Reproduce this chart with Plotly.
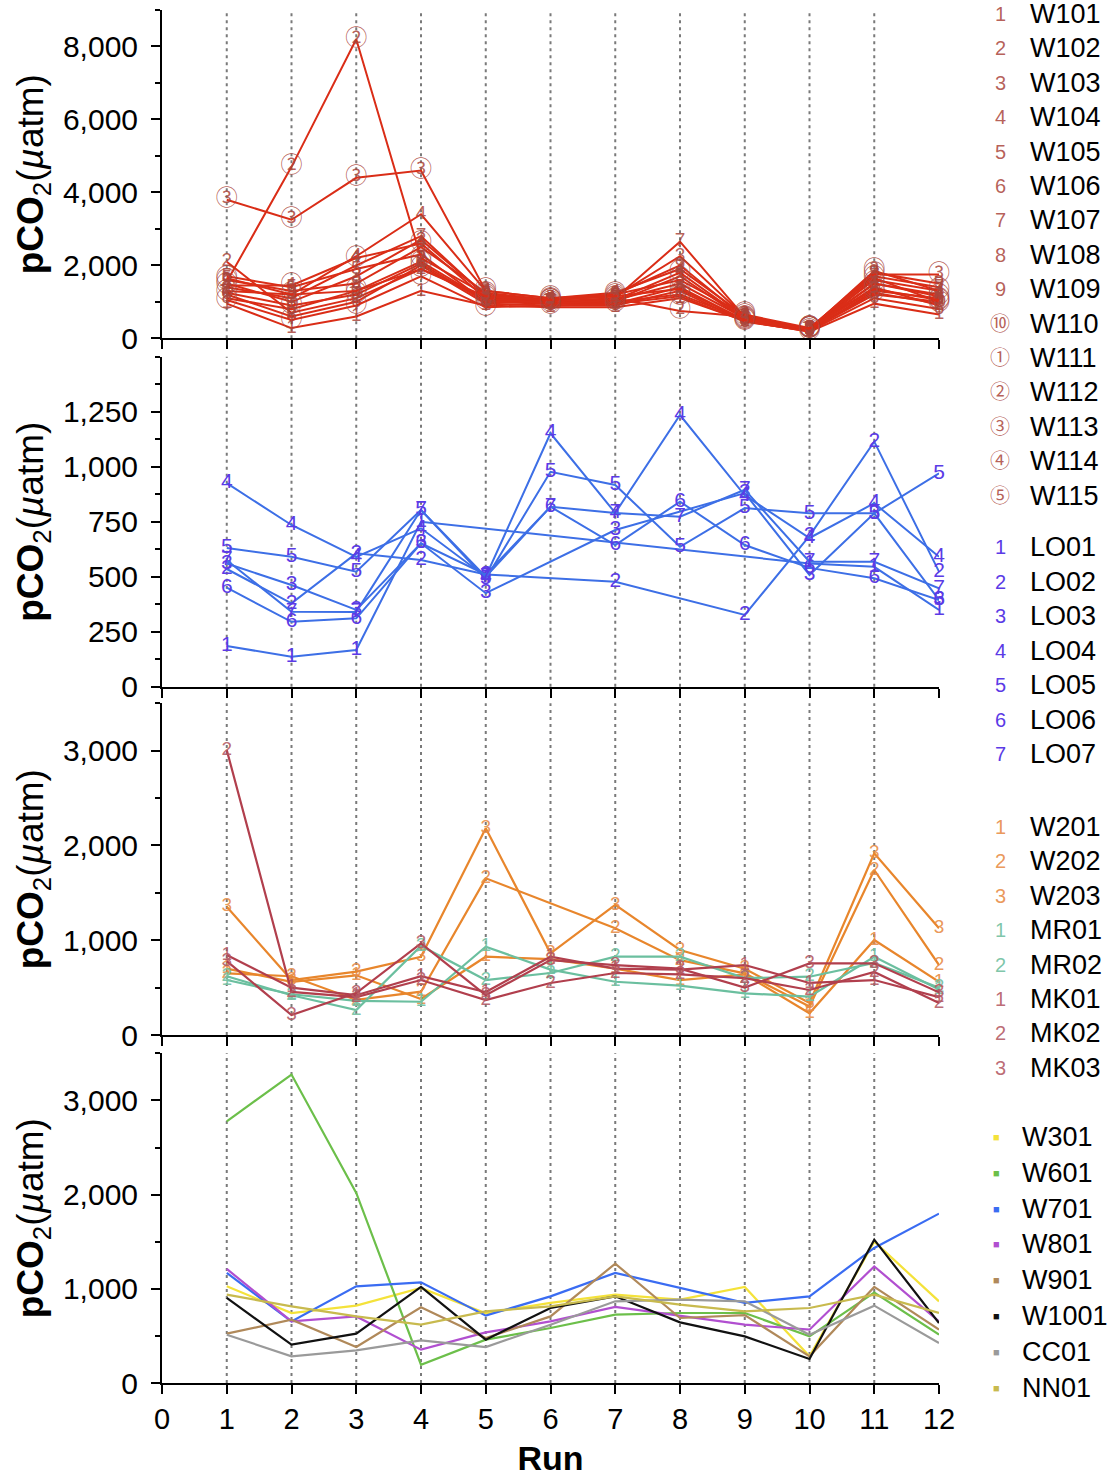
import plotly.graph_objects as go

# ---------------- data ----------------
runs = [1, 2, 3, 4, 5, 6, 7, 8, 9, 10, 11, 12]
x_tick_labels = ["0", "1", "2", "3", "4", "5", "6", "7", "8", "9", "10", "11", "12"]

# Panel 1 : W101 - W115
p1_names = ["W101", "W102", "W103", "W104", "W105", "W106", "W107", "W108",
            "W109", "W110", "W111", "W112", "W113", "W114", "W115"]
p1_marks = ["1", "2", "3", "4", "5", "6", "7", "8", "9", "⑩", "①", "②", "③", "④", "⑤"]
W101 = [950, 280, 600, 1300, 900, 850, 850, 1100, 480, 180, 950, 650]
W102 = [2100, 700, 1100, 1900, 1100, 1000, 1050, 1500, 550, 250, 1400, 900]
W103 = [1500, 1000, 1700, 2700, 1200, 1050, 1150, 2250, 600, 230, 1500, 1200]
W104 = [1300, 1200, 2250, 3400, 1300, 1100, 1250, 1900, 620, 260, 1600, 1300]
W105 = [1700, 1400, 1900, 2300, 1000, 950, 1000, 1700, 520, 210, 1300, 1100]
W106 = [1200, 600, 1000, 2000, 950, 900, 900, 1300, 450, 200, 1100, 800]
W107 = [1400, 1100, 2000, 2800, 1150, 1000, 1100, 2650, 580, 240, 1700, 1400]
W108 = [1100, 800, 1300, 2100, 1050, 950, 950, 1400, 500, 220, 1200, 1000]
W109 = [1600, 1300, 1500, 2500, 1250, 1050, 1200, 2000, 560, 270, 1800, 1500]
W110 = [1250, 900, 1200, 2050, 1000, 1000, 1000, 1200, 520, 230, 1250, 950]
W111 = [1050, 500, 900, 1700, 850, 900, 950, 1150, 470, 190, 1650, 1000]
W112 = [1550, 4700, 8200, 2200, 1200, 1000, 1100, 750, 600, 250, 1850, 1300]
W113 = [3800, 3250, 4400, 4600, 1300, 1100, 1200, 1600, 650, 280, 1750, 1750]
W114 = [1450, 1450, 2200, 2600, 1100, 950, 1050, 1800, 540, 240, 1500, 1150]
W115 = [1650, 1200, 1300, 1900, 1150, 1050, 1150, 1350, 500, 260, 1350, 1050]
p1_values = [W101, W102, W103, W104, W105, W106, W107, W108,
             W109, W110, W111, W112, W113, W114, W115]

# Panel 2 : LO01 - LO07
p2_names = ["LO01", "LO02", "LO03", "LO04", "LO05", "LO06", "LO07"]
p2_marks = ["1", "2", "3", "4", "5", "6", "7"]
LO01 = [185, 136, 167, 750, None, None, None, None, None, 560, 545, 349]
LO02 = [535, 379, 606, 576, 510, None, 477, None, 326, 686, 1114, 523]
LO03 = [560, 462, 349, 652, 425, None, 712, None, 880, 508, 788, 394]
LO04 = [925, 735, 590, 720, 500, 1152, 790, 1235, 870, 676, 834, 591]
LO05 = [630, 591, 523, 803, 490, 977, 917, 636, 812, 788, 788, 970]
LO06 = [450, 295, 311, 652, 510, 818, 644, 841, 644, 540, 493, 394]
LO07 = [575, 341, 340, 803, 500, 818, 790, 773, 895, 568, 568, 447]
p2_values = [LO01, LO02, LO03, LO04, LO05, LO06, LO07]

# Panel 3 : W201-W203, MR01-MR02, MK01-MK03
p3_names = ["W201", "W202", "W203", "MR01", "MR02", "MK01", "MK02", "MK03"]
p3_marks = ["1", "2", "3", "1", "2", "1", "2", "3"]
W201 = [700, 560, 630, 380, 826, 800, 700, 580, 640, 229, 1002, 560]
W202 = [650, 620, 370, 457, 1653, None, 1126, 790, 650, 300, 1741, 738]
W203 = [1354, 580, 668, 826, 2181, 862, 1372, 897, 700, 337, 1917, 1126]
MR01 = [580, 430, 360, 351, 932, 690, 562, 520, 440, 404, 826, 480]
MR02 = [620, 420, 264, 940, 580, 654, 826, 826, 600, 615, 760, 500]
MK01 = [844, 500, 420, 620, 454, 826, 700, 690, 738, 549, 580, 400]
MK02 = [3007, 454, 400, 580, 369, 549, 654, 640, 600, 475, 665, 337]
MK03 = [780, 211, 443, 967, 420, 790, 738, 700, 500, 756, 756, 450]
p3_values = [W201, W202, W203, MR01, MR02, MK01, MK02, MK03]

# Panel 4
p4_names = ["W301", "W601", "W701", "W801", "W901", "W1001", "CC01", "NN01"]
W301 = [1026, 743, 821, 1009, 740, 850, 938, 885, 1020, 283, 1501, 867]
W601 = [2778, 3274, 2018, 194, 460, 584, 725, 743, 743, 495, 960, 513]
W701 = [1168, 654, 1026, 1068, 715, 920, 1168, 1009, 850, 920, 1434, 1798]
W801 = [1211, 654, 707, 354, 537, 654, 807, 715, 619, 566, 1238, 654]
W901 = [524, 672, 382, 803, 478, 707, 1267, 690, 720, 283, 1020, 566]
W1001 = [903, 407, 524, 1020, 460, 796, 920, 644, 495, 255, 1522, 637]
CC01 = [513, 283, 346, 452, 382, 619, 867, 885, 867, 513, 821, 425]
NN01 = [938, 814, 707, 619, 761, 814, 920, 832, 761, 796, 938, 743]
p4_values = [W301, W601, W701, W801, W901, W1001, CC01, NN01]

y1_ticks = [0, 2000, 4000, 6000, 8000]
y2_ticks = [0, 250, 500, 750, 1000, 1250]
y3_ticks = [0, 1000, 2000, 3000]
y4_ticks = [0, 1000, 2000, 3000]

# ---------------- styles ----------------
FONT = "Liberation Sans, Arial, Noto Sans CJK SC, sans-serif"
MARKFONT = "Liberation Sans, Noto Sans CJK SC, sans-serif"

p1_line = "#da2d17"
p1_text = "rgba(170,70,60,0.85)"
p2_line = "#3d6fe6"
p2_text = "#5b3be6"
p3_line = ["#e8862c"] * 3 + ["#6bbf9f"] * 2 + ["#b13f4d"] * 3
p3_text = ["rgba(232,140,70,0.9)"] * 3 + ["rgba(120,195,165,0.95)"] * 2 + ["rgba(180,90,100,0.9)"] * 3
p4_colors = ["#f4e23a", "#6cbf4a", "#3a6cf2", "#b14fd0", "#b0895a", "#111111", "#9a9a9a", "#c8ba4e"]

W, H = 1116, 1477
L, R, T, B = 162, 177, 10, 94
PH = H - T - B
PW = W - L - R
panels_px = [(10, 338.3), (356.7, 686.7), (703.3, 1035), (1053.3, 1383)]


def py(p):
    return (H - B - p) / PH


def px(p):
    return (p - L) / PW


fig = go.Figure()


def add_series(panel, values, color, mark=None, tcolor="black", tsize=19, width=2.0):
    ax = "" if panel == 1 else str(panel)
    kw = dict(
        x=runs, y=values,
        line=dict(color=color, width=width),
        connectgaps=True, cliponaxis=False, showlegend=False,
        xaxis="x" + ax, yaxis="y" + ax,
    )
    if mark:
        kw.update(mode="lines+text",
                  text=[mark if v is not None else None for v in values],
                  textposition="middle center",
                  textfont=dict(family=MARKFONT, size=tsize, color=tcolor))
    else:
        kw.update(mode="lines")
    fig.add_trace(go.Scatter(**kw))


for vals, mk in zip(p1_values, p1_marks):
    add_series(1, vals, p1_line, mk, p1_text, 22 if mk in "⑩①②③④⑤" else 19, 2.0)
for vals, mk in zip(p2_values, p2_marks):
    add_series(2, vals, p2_line, mk, p2_text, 21, 2.0)
for vals, mk, lc, tc in zip(p3_values, p3_marks, p3_line, p3_text):
    add_series(3, vals, lc, mk, tc, 19, 2.2)
for vals, c in zip(p4_values, p4_colors):
    add_series(4, vals, c, width=2.2)

# ---------------- axes ----------------
y_ranges = [[0, 9000], [0, 1500], [0, 3500], [0, 3500]]
y_tickvals = [y1_ticks, y2_ticks, y3_ticks, y4_ticks]
y_minor = [1000, 125, 500, 500]
ytitle = "<b>pCO</b><sub>2</sub>(<i>µ</i>atm)"

layout = dict(
    width=W, height=H, margin=dict(l=L, r=R, t=T, b=B, autoexpand=False),
    paper_bgcolor="white", plot_bgcolor="white",
    font=dict(family=FONT, color="black"),
)
shapes = []
for i in range(1, 5):
    ax = "" if i == 1 else str(i)
    top, bot = panels_px[i - 1]
    xa = dict(
        domain=[0, 1], anchor="y" + ax, range=[0, 12], automargin=False,
        tickvals=[0] + runs, ticktext=x_tick_labels,
        showticklabels=(i == 4),
        ticks="outside", ticklen=9, tickwidth=2, tickcolor="black",
        showline=True, linewidth=2, linecolor="black",
        showgrid=False, zeroline=False,
        tickfont=dict(size=29, family=FONT),
    )
    if i > 1:
        xa["matches"] = "x"
    if i == 4:
        xa["title"] = dict(text="<b>Run</b>", font=dict(size=34, family=FONT), standoff=14)
    layout["xaxis" + ax] = xa
    layout["yaxis" + ax] = dict(
        domain=[py(bot), py(top)], anchor="x" + ax, range=y_ranges[i - 1], automargin=False,
        tickvals=y_tickvals[i - 1], tickformat=",",
        ticks="outside", ticklen=9, tickwidth=2, tickcolor="black",
        minor=dict(tickmode="linear", tick0=0, dtick=y_minor[i - 1], ticks="outside",
                   ticklen=5, tickwidth=1.5, tickcolor="black"),
        showline=True, linewidth=2, linecolor="black",
        showgrid=False, zeroline=False,
        tickfont=dict(size=30, family=FONT),
        ticklabelstandoff=7,
        title=dict(text=ytitle, font=dict(size=37, family=FONT), standoff=8),
    )
    for r in runs[:-1]:
        shapes.append(dict(type="line", xref="x" + ax, yref="y" + ax + " domain",
                           x0=r, x1=r, y0=0, y1=1, layer="below",
                           line=dict(color="#7a7a7a", width=2, dash="3px,4px")))
layout["shapes"] = shapes

# ---------------- legends (annotations) ----------------
ann = []


def legend_block(names, marks, mcolors, start, step, mark_x=1000, name_x=1028, msize=19):
    for k, nm in enumerate(names):
        yy = py(start + k * step)
        ann.append(dict(x=px(mark_x), y=yy, xref="paper", yref="paper", text=marks[k],
                        showarrow=False, xanchor="center", yanchor="middle",
                        font=dict(size=msize, color=mcolors[k], family=MARKFONT)))
        ann.append(dict(x=px(name_x), y=yy, xref="paper", yref="paper", text=nm,
                        showarrow=False, xanchor="left", yanchor="middle",
                        font=dict(size=27, color="black", family=FONT)))


legend_block(p1_names, p1_marks, ["rgba(170,70,60,0.85)"] * 15, 14, 34.4, msize=20)
legend_block(p2_names, p2_marks, [p2_text] * 7, 547, 34.5, msize=20)
legend_block(p3_names, p3_marks, p3_text, 827, 34.4, msize=20)
legend_block(p4_names, ["■"] * 8, p4_colors, 1137, 35.8, mark_x=996, name_x=1020, msize=11)
layout["annotations"] = ann

fig.update_layout(**layout)
fig.write_html("out.html")
